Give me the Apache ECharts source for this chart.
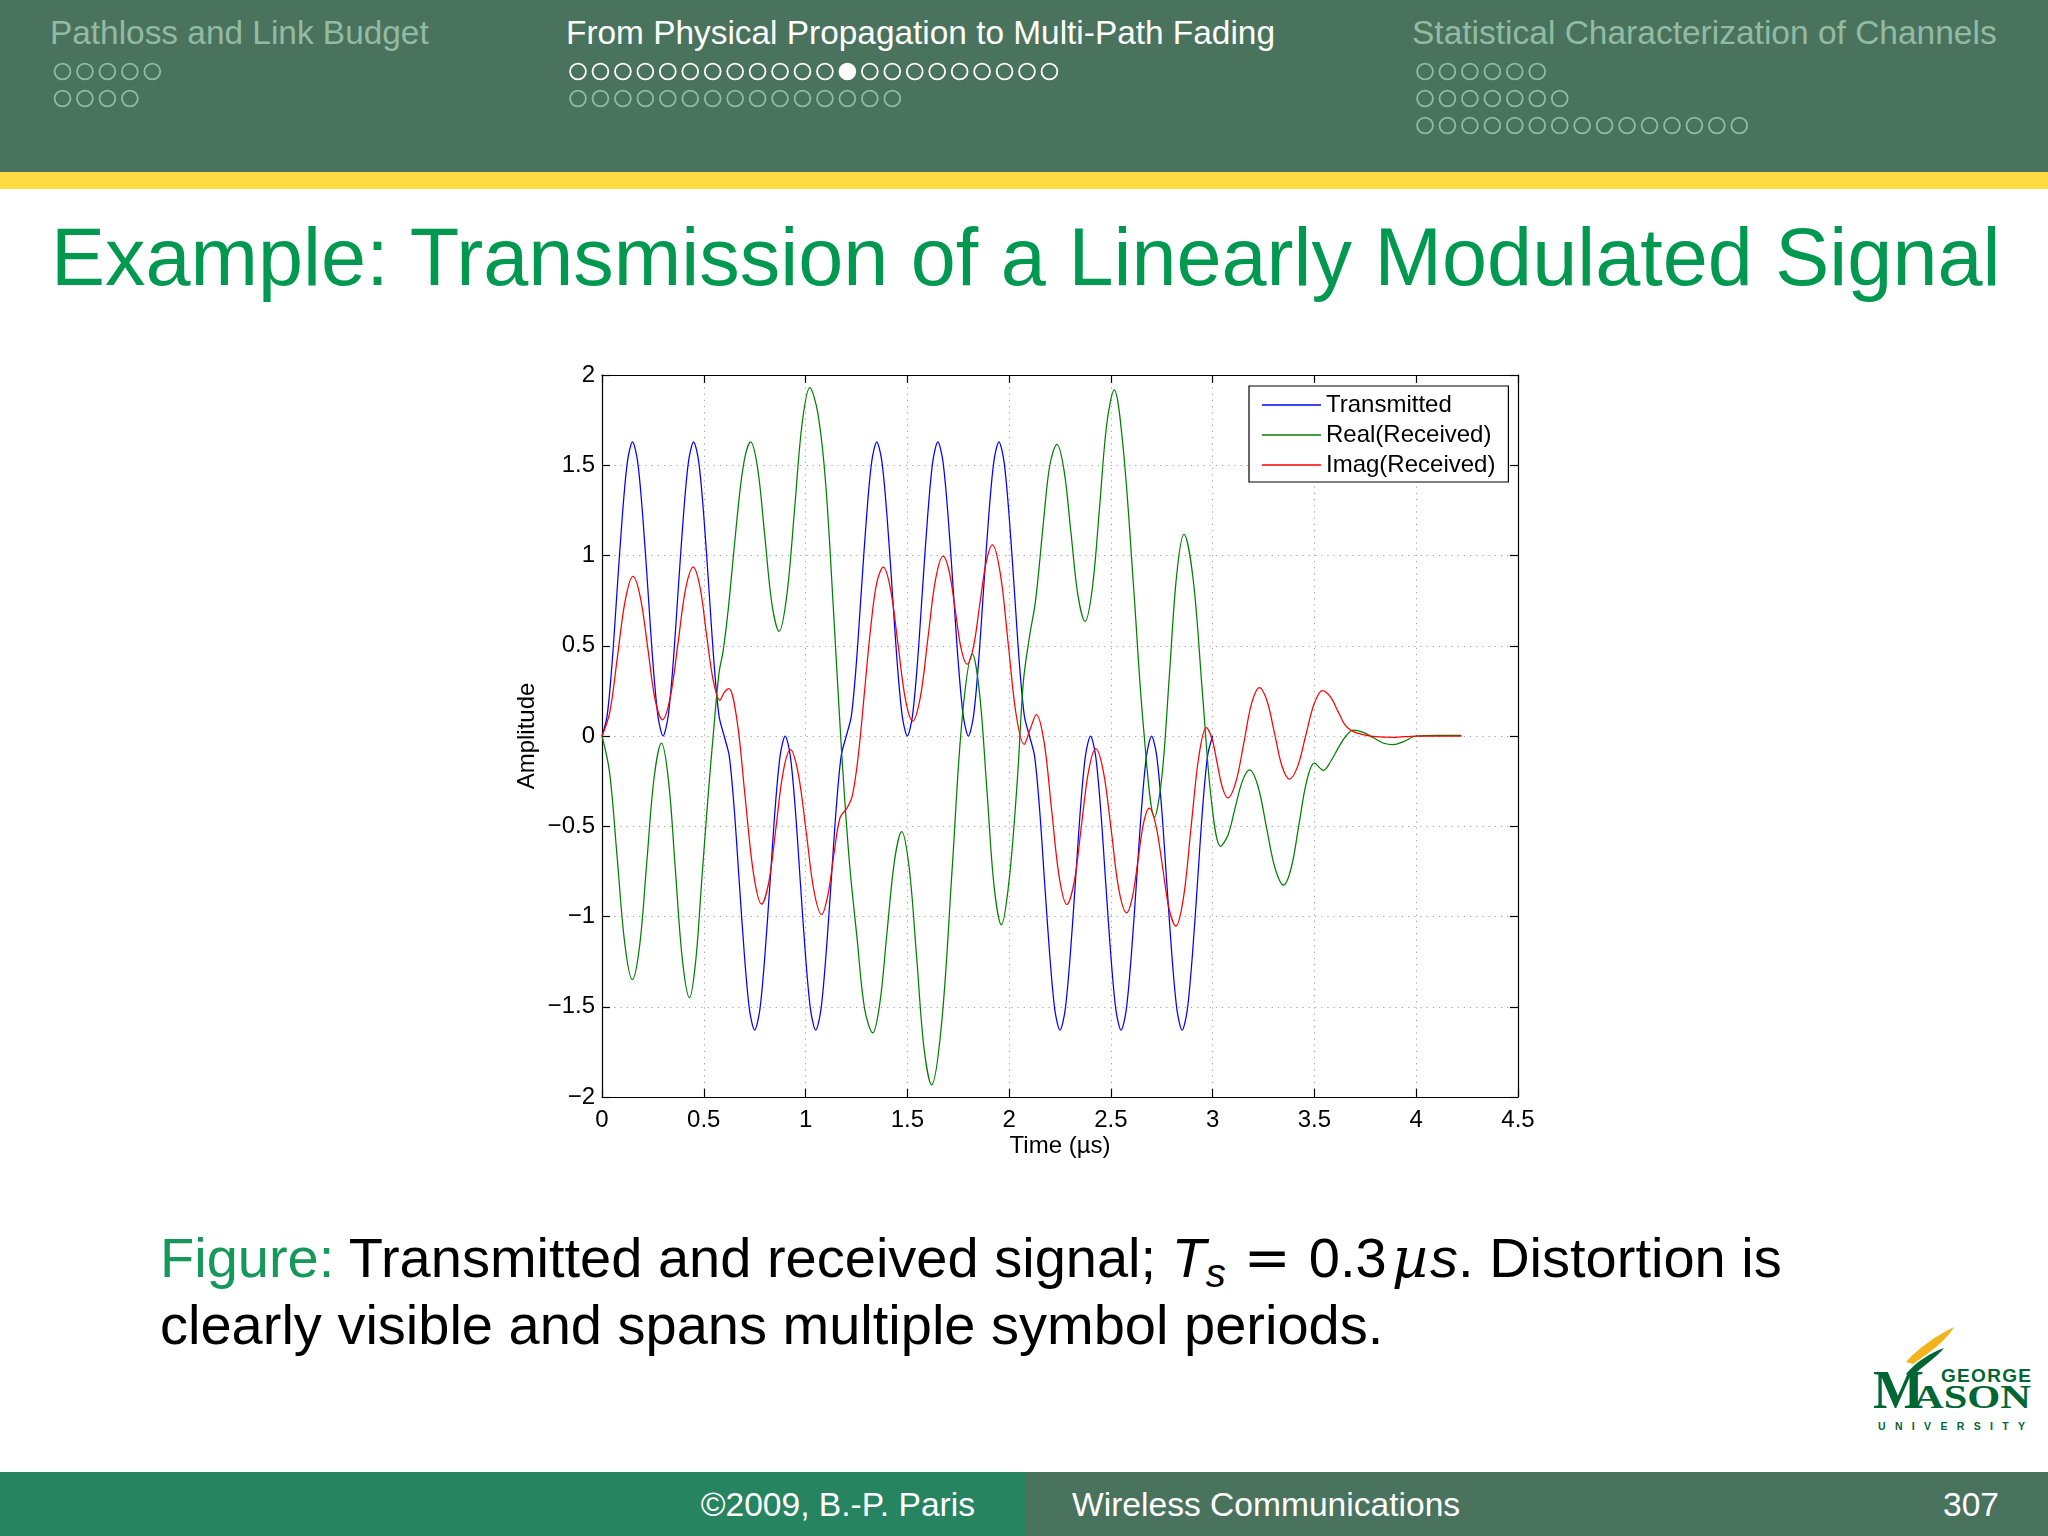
<!DOCTYPE html>
<html>
<head>
<meta charset="utf-8">
<script src="https://cdn.jsdelivr.net/npm/echarts@6/dist/echarts.min.js"></script>
<style>
html,body{margin:0;padding:0;background:#fff;}
#slide{position:relative;width:2048px;height:1536px;overflow:hidden;background:#fff;font-family:'Liberation Sans',Arial,Helvetica,sans-serif;}
#deco{position:absolute;left:0;top:0;}
#chart{position:absolute;left:0;top:0;width:2048px;height:1536px;}
</style>
</head>
<body>
<div id="slide">
<svg id="deco" width="2048" height="1536" xmlns="http://www.w3.org/2000/svg" font-family="'Liberation Sans', Arial, Helvetica, sans-serif">
  <rect x="0" y="0" width="2048" height="172" fill="#4a735e"/>
  <rect x="0" y="172" width="2048" height="17" fill="#fddd42"/>
  <text x="50" y="44" font-size="33.4" fill="#93baa3">Pathloss and Link Budget</text>
  <text x="566" y="44" font-size="33.4" fill="#ffffff">From Physical Propagation to Multi-Path Fading</text>
  <text x="1412" y="44" font-size="33.5" fill="#93baa3">Statistical Characterization of Channels</text>
  <g id="navdots"></g>

  <text x="51" y="285" font-size="81" fill="#00994f">Example: Transmission of a Linearly Modulated Signal</text>

  <text x="160" y="1277" font-size="56" fill="#000"><tspan fill="#15995a">Figure:</tspan> Transmitted and received signal; <tspan font-style="italic">T</tspan><tspan font-style="italic" font-size="40" dy="10">s</tspan><tspan dy="-10" dx="18" font-family="'DejaVu Serif', serif">=</tspan><tspan dx="18">0.3</tspan><tspan dx="5" font-style="italic" font-family="'DejaVu Serif', serif">µ</tspan><tspan dx="2" font-style="italic">s</tspan>. Distortion is</text>
  <text x="160" y="1344" font-size="56" fill="#000">clearly visible and spans multiple symbol periods.</text>

  <g id="logo">
    <path d="M1906 1362 C1918 1348 1936 1336 1954 1327 C1947 1340 1930 1352 1913 1364 Z" fill="#f2b31b"/>
    <path d="M1906 1374 C1916 1362 1930 1353 1944 1348 C1936 1358 1922 1366 1912 1377 Z" fill="#006633"/>
    <text x="1941" y="1382" font-size="19" font-weight="bold" fill="#006633" textLength="90" lengthAdjust="spacing">GEORGE</text>
    <text x="1873" y="1408" font-size="54" font-weight="bold" fill="#006633" font-family="'Liberation Serif','DejaVu Serif',serif">M</text>
    <text x="1913" y="1408" font-size="34" font-weight="bold" fill="#006633" font-family="'Liberation Serif','DejaVu Serif',serif" textLength="118" lengthAdjust="spacingAndGlyphs">ASON</text>
    <text x="1878" y="1430" font-size="10.5" font-weight="bold" fill="#006633" textLength="147" lengthAdjust="spacing">UNIVERSITY</text>
  </g>

  <rect x="0" y="1472" width="1025" height="64" fill="#268461"/>
  <rect x="1025" y="1472" width="1023" height="64" fill="#4a735e"/>
  <text x="975" y="1516" font-size="33.6" fill="#fff" text-anchor="end">©2009, B.-P. Paris</text>
  <text x="1072" y="1516" font-size="33.6" fill="#fff">Wireless Communications</text>
  <text x="1999" y="1516" font-size="33.6" fill="#fff" text-anchor="end">307</text>
</svg>
<div id="chart"></div>
</div>
<script>
// ---------------- data ----------------
const seriesNames = ['Transmitted', 'Real(Received)', 'Imag(Received)'];
const xTickValues = [0, 0.5, 1, 1.5, 2, 2.5, 3, 3.5, 4, 4.5];
const yTickValues = [-2, -1.5, -1, -0.5, 0, 0.5, 1, 1.5, 2];

// transmitted signal, sampled every 0.025 us from 0 to 3.0 us
const txStep = 0.025;
const transmitted = [
  0, 0.11, 0.41, 0.82, 1.22, 1.52, 1.63, 1.52, 1.22, 0.82, 0.41, 0.11,
  0, 0.11, 0.41, 0.82, 1.22, 1.52, 1.63, 1.52, 1.22, 0.82, 0.41, 0.11,
  0, -0.11, -0.41, -0.82, -1.22, -1.52, -1.63, -1.52, -1.22, -0.82, -0.41, -0.11,
  0, -0.11, -0.41, -0.82, -1.22, -1.52, -1.63, -1.52, -1.22, -0.82, -0.41, -0.11,
  0, 0.11, 0.41, 0.82, 1.22, 1.52, 1.63, 1.52, 1.22, 0.82, 0.41, 0.11,
  0, 0.11, 0.41, 0.82, 1.22, 1.52, 1.63, 1.52, 1.22, 0.82, 0.41, 0.11,
  0, 0.11, 0.41, 0.82, 1.22, 1.52, 1.63, 1.52, 1.22, 0.82, 0.41, 0.11,
  0, -0.11, -0.41, -0.82, -1.22, -1.52, -1.63, -1.52, -1.22, -0.82, -0.41, -0.11,
  0, -0.11, -0.41, -0.82, -1.22, -1.52, -1.63, -1.52, -1.22, -0.82, -0.41, -0.11,
  0, -0.11, -0.41, -0.82, -1.22, -1.52, -1.63, -1.52, -1.22, -0.82, -0.41, -0.11,
  0
];

// real part of received signal: [time (us), amplitude]
const realReceived = [
  [0,0],[0.037,-0.2],[0.075,-0.68],[0.112,-1.15],[0.149,-1.35],
  [0.185,-1.16],[0.22,-0.70],[0.256,-0.23],[0.292,-0.04],
  [0.327,-0.25],[0.361,-0.75],[0.395,-1.24],[0.43,-1.45],
  [0.46,-1.25],[0.49,-0.8],[0.52,-0.35],[0.546,0.0],[0.575,0.35],[0.595,0.47],[0.62,0.7],[0.65,1.05],[0.68,1.38],[0.705,1.56],[0.73,1.63],
  [0.765,1.48],[0.80,1.105],[0.835,0.73],[0.87,0.58],
  [0.908,0.78],[0.946,1.255],[0.983,1.73],[1.021,1.93],
  [1.06,1.79],[1.098,1.41],[1.137,0.7],[1.175,-0.05],[1.214,-0.68],[1.253,-1.12],[1.29,-1.51],[1.33,-1.645],
  [1.365,-1.48],[1.40,-1.09],[1.437,-0.69],[1.472,-0.53],
  [1.509,-0.73],[1.546,-1.23],[1.582,-1.73],[1.619,-1.933],
  [1.669,-1.585],[1.72,-0.74],[1.77,0.105],[1.82,0.454],
  [1.855,0.235],[1.891,-0.30],[1.926,-0.83],[1.962,-1.046],
  [2.0,-0.8],[2.04,-0.25],[2.07,0.3],[2.1,0.55],[2.13,0.75],[2.17,1.2],[2.2,1.5],[2.235,1.616],
  [2.27,1.47],[2.304,1.125],[2.338,0.78],[2.373,0.635],
  [2.409,0.82],[2.445,1.276],[2.48,1.73],[2.516,1.917],
  [2.56,1.6],[2.61,0.85],[2.66,0.05],[2.715,-0.45],
  [2.751,-0.22],[2.787,0.33],[2.823,0.89],[2.859,1.118],
  [2.904,0.87],[2.949,0.25],[2.994,-0.36],[3.039,-0.611],
  [3.075,-0.55],[3.11,-0.40],[3.146,-0.25],[3.181,-0.188],
  [3.223,-0.28],[3.265,-0.51],[3.306,-0.73],[3.348,-0.826],
  [3.386,-0.73],[3.424,-0.49],[3.462,-0.25],[3.5,-0.15],[3.544,-0.19],[3.58,-0.14],[3.62,-0.06],[3.655,0.0],[3.691,0.032],
  [3.74,0.02],[3.79,-0.01],[3.84,-0.04],[3.887,-0.048],[3.94,-0.03],[4.0,0],[4.1,0.004],[4.222,0.003]
];

// imaginary part of received signal: [time (us), amplitude]
const imagReceived = [
  [0,0],[0.038,0.13],[0.076,0.44],[0.114,0.75],[0.152,0.884],
  [0.188,0.77],[0.225,0.487],[0.261,0.2],[0.297,0.09],
  [0.335,0.213],[0.373,0.51],[0.41,0.81],[0.448,0.935],
  [0.481,0.827],[0.513,0.567],[0.546,0.31],[0.579,0.198],[0.6,0.24],[0.623,0.263],
  [0.663,0.088],[0.703,-0.335],[0.744,-0.76],[0.784,-0.932],
  [0.82,-0.807],[0.855,-0.504],[0.89,-0.2],[0.926,-0.076],
  [0.964,-0.209],[1.003,-0.53],[1.041,-0.856],[1.079,-0.989],
  [1.11,-0.88],[1.14,-0.65],[1.17,-0.45],[1.203,-0.40],[1.23,-0.33],[1.26,-0.1],[1.29,0.25],[1.32,0.6],[1.35,0.85],[1.382,0.935],
  [1.418,0.81],[1.454,0.51],[1.49,0.207],[1.526,0.083],
  [1.564,0.216],[1.601,0.54],[1.638,0.864],[1.676,0.997],
  [1.706,0.91],[1.735,0.70],[1.764,0.486],[1.794,0.398],
  [1.825,0.495],[1.856,0.73],[1.887,0.96],[1.918,1.059],
  [1.957,0.898],[1.996,0.507],[2.035,0.115],[2.074,-0.046],[2.104,0.04],[2.134,0.118],
  [2.172,-0.035],[2.209,-0.41],[2.246,-0.78],[2.284,-0.933],
  [2.32,-0.807],[2.355,-0.50],[2.39,-0.196],[2.426,-0.07],
  [2.464,-0.203],[2.502,-0.525],[2.539,-0.85],[2.577,-0.98],
  [2.605,-0.895],[2.633,-0.69],[2.66,-0.485],[2.688,-0.40],
  [2.721,-0.495],[2.754,-0.727],[2.786,-0.958],[2.819,-1.054],
  [2.857,-0.893],[2.894,-0.504],[2.932,-0.115],[2.969,0.046],
  [2.996,-0.011],[3.022,-0.15],[3.048,-0.286],[3.075,-0.343],
  [3.114,-0.254],[3.153,-0.04],[3.191,0.179],[3.23,0.268],
  [3.267,0.194],[3.304,0.015],[3.34,-0.165],[3.377,-0.239],
  [3.418,-0.167],[3.458,0.007],[3.499,0.18],[3.539,0.252],
  [3.577,0.219],[3.615,0.138],[3.653,0.057],[3.691,0.024],
  [3.75,0.005],[3.8,-0.004],[3.887,-0.008],[4.0,0],[4.1,0],[4.222,0]
];

// ---------------- slide decoration: navigation mini-frames ----------------
(function () {
  const g = document.getElementById('navdots');
  const NS = 'http://www.w3.org/2000/svg';
  const inactive = '#93baa3';
  function row(x0, y, n, filled, color) {
    for (let i = 0; i < n; i++) {
      const c = document.createElementNS(NS, 'circle');
      c.setAttribute('cx', x0 + i * 22.45);
      c.setAttribute('cy', y);
      c.setAttribute('r', 7.9);
      c.setAttribute('stroke', color);
      c.setAttribute('stroke-width', 1.8);
      c.setAttribute('fill', i === filled ? color : 'none');
      g.appendChild(c);
    }
  }
  row(62.5, 71.5, 5, -1, inactive);
  row(62.5, 98.5, 4, -1, inactive);
  row(578, 71.5, 22, 12, '#ffffff');
  row(578, 98.5, 15, -1, inactive);
  row(1425, 71.5, 6, -1, inactive);
  row(1425, 98.5, 7, -1, inactive);
  row(1425, 125.5, 15, -1, inactive);
})();

// ---------------- chart ----------------
const FONT = "'Liberation Sans', Arial, Helvetica, sans-serif";
const colors = ['#0000ff', '#008000', '#ff0000'];
const gridLine = { show: true, lineStyle: { color: '#a0a0a0', width: 1, type: [1.2, 5] } };
const axisLine = { show: true, onZero: false, lineStyle: { color: '#000', width: 1.2 } };
const axisTick = { show: true, inside: true, length: 8, lineStyle: { color: '#000', width: 1.2 } };

const chart = echarts.init(document.getElementById('chart'), null, { renderer: 'canvas' });
chart.setOption({
  backgroundColor: 'transparent',
  animation: false,
  grid: { left: 602, top: 375, width: 916, height: 722, containLabel: false, outerBoundsMode: 'none' },
  xAxis: [
    {
      type: 'value', position: 'bottom', min: 0, max: 4.5, interval: 0.5,
      axisLine, axisTick,
      axisLabel: { show: true, fontSize: 24, color: '#000', fontFamily: FONT, margin: 11, showMinLabel: true, showMaxLabel: true },
      splitLine: gridLine,
      name: 'Time (µs)', nameLocation: 'middle', nameGap: 37,
      nameTextStyle: { fontSize: 24, color: '#000', fontFamily: FONT }
    },
    {
      type: 'value', position: 'top', min: 0, max: 4.5, interval: 0.5,
      axisLine, axisTick, axisLabel: { show: false }, splitLine: { show: false }
    }
  ],
  yAxis: [
    {
      type: 'value', position: 'left', min: -2, max: 2, interval: 0.5,
      axisLine, axisTick,
      axisLabel: {
        show: true, fontSize: 24, color: '#000', fontFamily: FONT, margin: 7,
        showMinLabel: true, showMaxLabel: true,
        formatter: v => String(v).replace('-', '\u2212')
      },
      splitLine: gridLine,
      name: 'Amplitude', nameLocation: 'middle', nameGap: 63,
      nameTextStyle: { fontSize: 24, color: '#000', fontFamily: FONT }
    },
    {
      type: 'value', position: 'right', min: -2, max: 2, interval: 0.5,
      axisLine, axisTick, axisLabel: { show: false }, splitLine: { show: false }
    }
  ],
  legend: {
    data: seriesNames,
    orient: 'vertical', left: 1249, top: 386,
    padding: [7, 13, 5, 13], itemWidth: 59, itemHeight: 1.6, itemGap: 6,
    icon: 'rect',
    borderColor: '#000', borderWidth: 1.2, borderRadius: 0, backgroundColor: '#fff',
    textStyle: { fontSize: 24, color: '#000', fontFamily: FONT, lineHeight: 24 },
    selectedMode: false
  },
  series: [
    {
      name: seriesNames[0], type: 'line', symbol: 'none', showSymbol: false, smooth: 0.3,
      data: transmitted.map((v, i) => [i * txStep, v]),
      lineStyle: { color: colors[0], width: 1.25 }, itemStyle: { color: colors[0] }
    },
    {
      name: seriesNames[1], type: 'line', symbol: 'none', showSymbol: false, smooth: 0.35,
      data: realReceived,
      lineStyle: { color: colors[1], width: 1.25 }, itemStyle: { color: colors[1] }
    },
    {
      name: seriesNames[2], type: 'line', symbol: 'none', showSymbol: false, smooth: 0.35,
      data: imagReceived,
      lineStyle: { color: colors[2], width: 1.25 }, itemStyle: { color: colors[2] }
    }
  ]
});
</script>
</body>
</html>
